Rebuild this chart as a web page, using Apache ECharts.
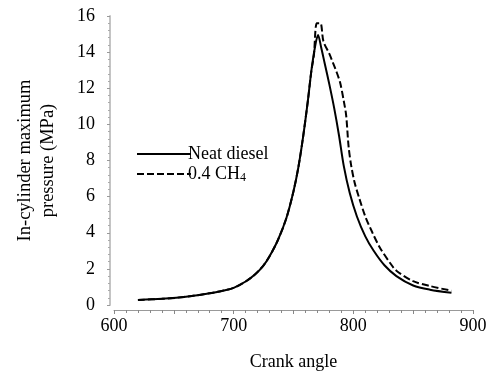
<!DOCTYPE html>
<html>
<head>
<meta charset="utf-8">
<script src="https://cdn.jsdelivr.net/npm/echarts@6/dist/echarts.min.js"></script>
<style>html,body{margin:0;padding:0;background:#fff;}#c{width:487px;height:374px;}</style>
</head>
<body>
<div id="c"></div>
<script>
// Neat diesel: crank angle and pressure (MPa)
var dieselAngle = [620, 640, 652, 665, 680, 690, 700, 710, 718, 725, 730, 737, 744, 750, 754, 758, 762, 765, 768, 770.5, 773, 776, 780, 784, 788, 792, 797, 803, 810, 817, 826, 836, 850, 864, 882];
var dieselP     = [0.28, 0.34, 0.40, 0.50, 0.65, 0.78, 0.95, 1.3, 1.7, 2.2, 2.7, 3.6, 4.8, 6.3, 7.6, 9.3, 11.3, 13.0, 14.3, 14.95, 14.3, 13.4, 12.2, 10.9, 9.4, 7.7, 6.2, 4.9, 3.8, 3.0, 2.2, 1.6, 1.08, 0.85, 0.68];
// 0.4 CH4
var ch4Angle = [620, 640, 652, 665, 680, 690, 700, 710, 718, 725, 730, 737, 744, 750, 754, 758, 762, 765, 767, 769.5, 772.5, 775, 780, 783, 786, 789, 792, 794, 796, 798, 801, 805, 810, 816, 822, 831, 836, 850, 864, 882];
var ch4P     = [0.28, 0.34, 0.40, 0.50, 0.65, 0.78, 0.95, 1.3, 1.7, 2.2, 2.7, 3.6, 4.8, 6.3, 7.6, 9.3, 11.3, 13.0, 13.8, 15.6, 15.6, 14.6, 13.9, 13.4, 12.9, 12.3, 11.3, 10.5, 8.8, 7.8, 6.8, 5.9, 4.9, 4.0, 3.2, 2.3, 1.9, 1.32, 1.05, 0.79];
var seriesNames = ['Neat diesel', '0.4 CH4'];
var xTicks = [600, 700, 800, 900];
var yTicks = [0, 2, 4, 6, 8, 10, 12, 14, 16];

function pairs(a, b) { return a.map(function (v, i) { return [v, b[i]]; }); }

var font = 'Liberation Serif, Times New Roman, serif';
var chart = echarts.init(document.getElementById('c'));
chart.setOption({
  animation: false,
  backgroundColor: '#fff',
  grid: { left: 114, right: 14, top: 16, bottom: 69, containLabel: false, outerBoundsMode: 'none' },
  legend: {
    orient: 'vertical', left: 131, top: 140, itemWidth: 54, itemHeight: 14, itemGap: 2,
    data: seriesNames,
    itemStyle: { opacity: 0 },
    textStyle: { fontFamily: font, fontSize: 18, color: '#000', padding: [0, 0, 0, -8],
      rich: { sub: { fontFamily: font, fontSize: 12, color: '#000', verticalAlign: 'bottom', padding: [8, 0, 0, 0] } } },
    formatter: function (n) { return n === '0.4 CH4' ? '0.4 CH{sub|4}' : n; }
  },
  xAxis: {
    type: 'value', min: xTicks[0], max: xTicks[xTicks.length - 1], interval: 50,
    offset: 5,
    name: 'Crank angle', nameLocation: 'middle', nameGap: 43,
    nameTextStyle: { fontFamily: font, fontSize: 18, color: '#000' },
    axisLine: { show: true, onZero: false, lineStyle: { color: '#999', width: 1 } },
    axisTick: { show: true, length: 4, lineStyle: { color: '#888' } },
    minorTick: { show: true, splitNumber: 5, length: 3, lineStyle: { color: '#888' } },
    splitLine: { show: false },
    axisLabel: { margin: 7, fontFamily: font, fontSize: 18, color: '#000',
      formatter: function (v) { return xTicks.indexOf(v) >= 0 ? String(v) : ''; } }
  },
  yAxis: {
    type: 'value', min: yTicks[0], max: yTicks[yTicks.length - 1], interval: 2,
    offset: 4,
    name: 'In-cylinder maximum\npressure (MPa)', nameLocation: 'middle', nameGap: 50,
    nameTextStyle: { fontFamily: font, fontSize: 18.5, color: '#000', lineHeight: 23, align: 'center' },
    axisLine: { show: true, lineStyle: { color: '#c4c4c4', width: 2 } },
    axisTick: { show: true, length: 3, lineStyle: { color: '#999' } },
    minorTick: { show: true, splitNumber: 5, length: 2, lineStyle: { color: '#aaa' } },
    splitLine: { show: false },
    axisLabel: { margin: 15, fontFamily: font, fontSize: 18, color: '#000' }
  },
  series: [
    { name: seriesNames[0], type: 'line', data: pairs(dieselAngle, dieselP), symbol: 'none', smooth: 0.3,
      lineStyle: { color: '#000', width: 2, type: 'solid' }, itemStyle: { color: '#000' } },
    { name: seriesNames[1], type: 'line', data: pairs(ch4Angle, ch4P), symbol: 'none', smooth: 0.3,
      lineStyle: { color: '#000', width: 2, type: [7, 3] }, itemStyle: { color: '#000' } }
  ]
});
</script>
</body>
</html>
